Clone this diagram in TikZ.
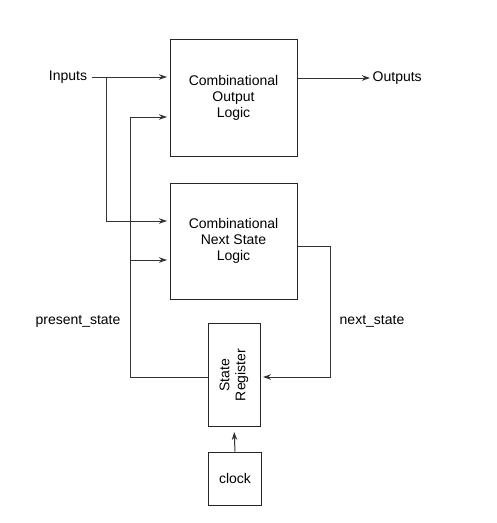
\documentclass[tikz,border=0pt]{standalone}
\usepackage{fontspec}
\setmainfont{Liberation Sans}
\usetikzlibrary{arrows.meta}
\begin{document}
\begin{tikzpicture}[x=1pt,y=-1pt,
  blk/.style={draw=black!85,line width=1pt,align=center,inner sep=0pt,font=\fontsize{14}{16}\selectfont},
  lbl/.style={inner sep=0pt,font=\fontsize{14}{16}\selectfont},
  wire/.style={draw=black!80,line width=1pt},
  arr/.style={wire,-{Stealth[length=8pt,width=5.5pt]},shorten >=2.5pt}]
\useasboundingbox (0,0) rectangle (497,523);
\node[blk,minimum width=127pt,minimum height=117pt] (out) at (233.5,97.5) {Combinational\\Output\\Logic};
\node[blk,minimum width=127pt,minimum height=116pt] (ns) at (233.5,241) {Combinational\\Next State\\Logic};
\node[blk,minimum width=52pt,minimum height=103pt] (reg) at (234,375) {};
\node[rotate=90,align=center,lbl] (regtxt) at (reg.center) {State\\Register};
\node[blk,minimum width=53pt,minimum height=53pt] (clk) at (235,478.5) {clock};
\node[lbl] (in) at (68,77) {Inputs};
\node[lbl,anchor=west] (outp) at (372.5,78) {Outputs};
\node[lbl] (ps) at (78,321) {present\_state};
\node[lbl] (nst) at (372,321) {next\_state};
\coordinate (inj) at (106,77);
\coordinate (fbl) at (130.5,377);
\coordinate (nsr) at (330,246);
% inputs
\draw[arr] ([xshift=5pt]in.east) -- (out.west |- in.east);
\draw[arr] (inj) |- (ns.west |- 0,221);
% outputs
\draw[arr] (out.east |- outp.west) -- (outp.west);
% next state
\draw[arr] (ns.east |- nsr) -- (nsr) |- (reg.east |- fbl);
% present state feedback
\draw[wire] (reg.west |- fbl) -- (fbl) -- (130.5,117);
\draw[arr] (130.5,117) -- (out.west |- 0,117);
\draw[arr] (130.5,260) -- (ns.west |- 0,260);
% clock
\draw[arr,shorten >=5pt] (clk.north) -- (reg.south);
\end{tikzpicture}
\end{document}
